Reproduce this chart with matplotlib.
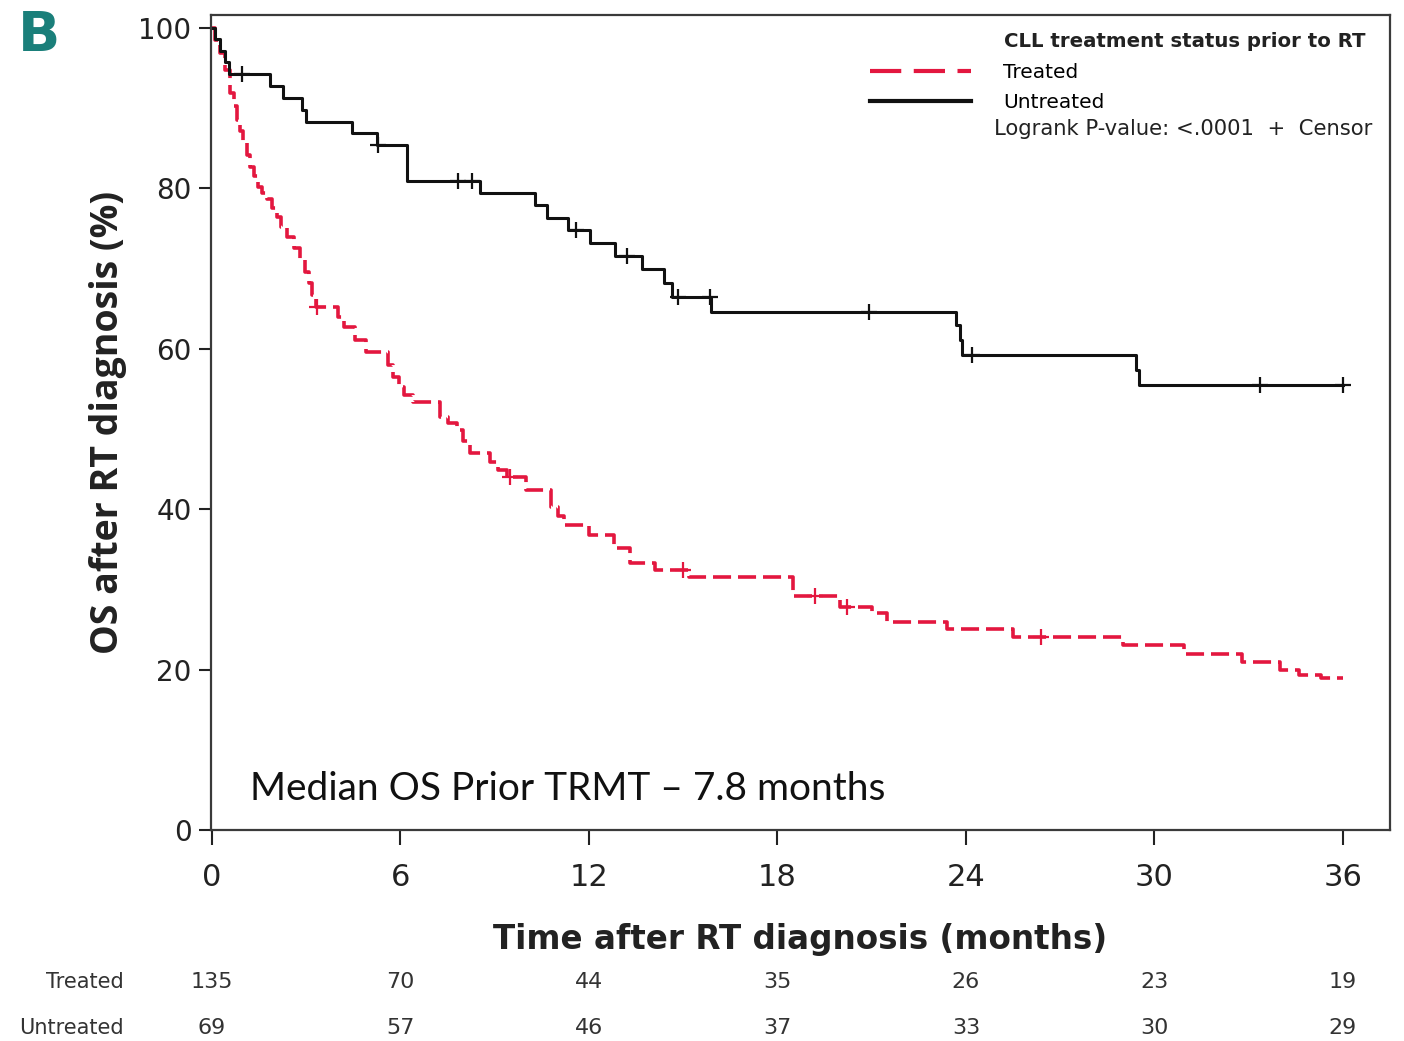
import matplotlib
matplotlib.use("Agg")
import matplotlib.pyplot as plt
import matplotlib.transforms as mtransforms
from matplotlib.lines import Line2D
import numpy as np

# Kaplan-Meier steps (time in months, survival in %)
t_untreated = [0, 0.1, 0.25, 0.4, 0.55, 1.85, 2.26, 2.86, 3.0, 4.46, 5.25, 6.2,
               8.53, 10.28, 10.66, 11.33, 12.03, 12.83, 13.7, 14.4, 14.65, 15.9,
               23.7, 23.8, 23.87, 29.4, 29.5, 36.0]
s_untreated = [100, 98.6, 97.1, 95.7, 94.2, 92.8, 91.3, 89.8, 88.3, 86.9, 85.4, 80.9,
               79.4, 77.9, 76.3, 74.8, 73.2, 71.5, 69.9, 68.2, 66.4, 64.6,
               63.0, 61.1, 59.2, 57.4, 55.5, 55.5]
cens_untreated = [0.95, 5.3, 7.83, 8.27, 11.6, 13.2, 14.85, 15.85, 20.9, 24.2, 33.35, 36.0]

t_treated = [0, 0.1, 0.25, 0.4, 0.57, 0.7, 0.8, 0.9, 1.0, 1.1, 1.2, 1.35, 1.47, 1.6,
             1.75, 1.9, 2.06, 2.2, 2.38, 2.6, 2.8, 2.95, 3.1, 3.2, 3.3, 4.0, 4.2,
             4.55, 4.9, 5.6, 5.77, 5.95, 6.1, 6.4, 7.25, 7.5, 7.8, 8.0, 8.2, 8.85,
             9.1, 9.4, 10.0, 10.8, 11.0, 11.2, 12.0, 12.8, 13.3, 14.1, 15.2, 18.5,
             20.0, 21.0, 21.5, 23.4, 25.5, 29.0, 30.95, 32.8, 34.0, 34.6, 35.3, 36.0]
s_treated = [100, 98.5, 96.9, 94.8, 91.9, 90.2, 88.5, 87.1, 85.7, 84.2, 82.7, 81.5,
             80.2, 79.4, 78.6, 77.5, 76.4, 75.2, 73.9, 72.5, 71.1, 69.6, 68.2, 66.7,
             65.2, 64.0, 62.7, 61.1, 59.6, 58.0, 56.5, 55.2, 54.2, 53.4, 51.5, 50.7,
             49.9, 48.5, 47.0, 45.9, 44.9, 44.0, 42.4, 40.3, 39.2, 38.0, 36.8, 35.2,
             33.3, 32.4, 31.5, 29.2, 27.8, 27.0, 25.9, 25.0, 24.0, 23.0, 21.9, 21.0,
             20.0, 19.3, 19.0, 19.0]
cens_treated = [3.35, 9.5, 15.0, 19.2, 20.2, 26.4]

time_ticks = [0, 6, 12, 18, 24, 30, 36]
at_risk_treated = [135, 70, 44, 35, 26, 23, 19]
at_risk_untreated = [69, 57, 46, 37, 33, 30, 29]

red = '#e3173f'
dark = '#222222'


def surv_at(t, times, surv):
    idx = np.searchsorted(times, t, side='right') - 1
    return np.asarray(surv)[idx]


fig = plt.figure(figsize=(14.04, 10.41), dpi=100)
ax = fig.add_axes([0.1503, 0.2027, 0.8397, 0.7829])

lw_red = 2.6
ax.step(t_treated, s_treated, where='post', color=red, lw=lw_red,
        dashes=(13 / lw_red, 5 / lw_red))
ax.step(t_untreated, s_untreated, where='post', color='#111111', lw=2.2)

ax.plot(cens_treated, surv_at(cens_treated, t_treated, s_treated), '+',
        color=red, ms=11, mew=1.6)
ax.plot(cens_untreated, surv_at(cens_untreated, t_untreated, s_untreated), '+',
        color='#111111', ms=11, mew=1.6)

ax.set_xlim(-0.03, 37.5)
ax.set_ylim(0, 101.6)
ax.set_xticks(time_ticks)
ax.set_yticks([0, 20, 40, 60, 80, 100])
for sp in ax.spines.values():
    sp.set_color('#3a3a3a')
    sp.set_linewidth(1.6)
ax.tick_params(axis='y', direction='out', length=9, width=1.5, pad=5,
               labelsize=20, colors=dark)
ax.tick_params(axis='x', direction='out', length=11, width=1.5, pad=13,
               labelsize=22, colors=dark)

ax.set_ylabel('OS after RT diagnosis (%)', family=['Open Sans', 'DejaVu Sans'],
              fontweight='bold', fontsize=27, color=dark, labelpad=8)
ax.set_xlabel('Time after RT diagnosis (months)', fontweight='bold', fontsize=23.5,
              color=dark, labelpad=22)

# legend
handles = [Line2D([], [], color=red, lw=3, dashes=(7.5, 3)),
           Line2D([], [], color='#111111', lw=3)]
ax.legend(handles, ['Treated', 'Untreated'], loc='upper left',
          bbox_to_anchor=(0.559, 0.941), frameon=False, borderpad=0,
          borderaxespad=0, handlelength=5.0, handletextpad=1.6,
          labelspacing=0.55, prop={'size': 14.5})
ax.text(0.9796, 0.967, 'CLL treatment status prior to RT', transform=ax.transAxes,
        ha='right', va='center', fontsize=14.2, fontweight='bold', color=dark)
ax.text(0.9847, 0.860, 'Logrank P-value: <.0001  +  Censor', transform=ax.transAxes,
        ha='right', va='center', fontsize=15.2, color=dark)

ax.text(0.033, 0.037, 'Median OS Prior TRMT \u2013 7.8 months', transform=ax.transAxes,
        ha='left', va='baseline', fontsize=28, family=['Lato', 'DejaVu Sans'],
        color='#111111')

# number at risk table
tr = mtransforms.blended_transform_factory(ax.transData, fig.transFigure)
for x, a, b in zip(time_ticks, at_risk_treated, at_risk_untreated):
    ax.text(x, 0.0567, str(a), transform=tr, ha='center', va='center',
            fontsize=16, color='#333333')
    ax.text(x, 0.0125, str(b), transform=tr, ha='center', va='center',
            fontsize=16, color='#333333')
fig.text(0.0883, 0.0567, 'Treated', ha='right', va='center', fontsize=15,
         color='#333333')
fig.text(0.0883, 0.0125, 'Untreated', ha='right', va='center', fontsize=15,
         color='#333333')

fig.text(0.013, 0.965, 'B', ha='left', va='center', fontsize=40, fontweight='bold',
         color='#1a7f7a')

fig.savefig('out.png', dpi=100)
